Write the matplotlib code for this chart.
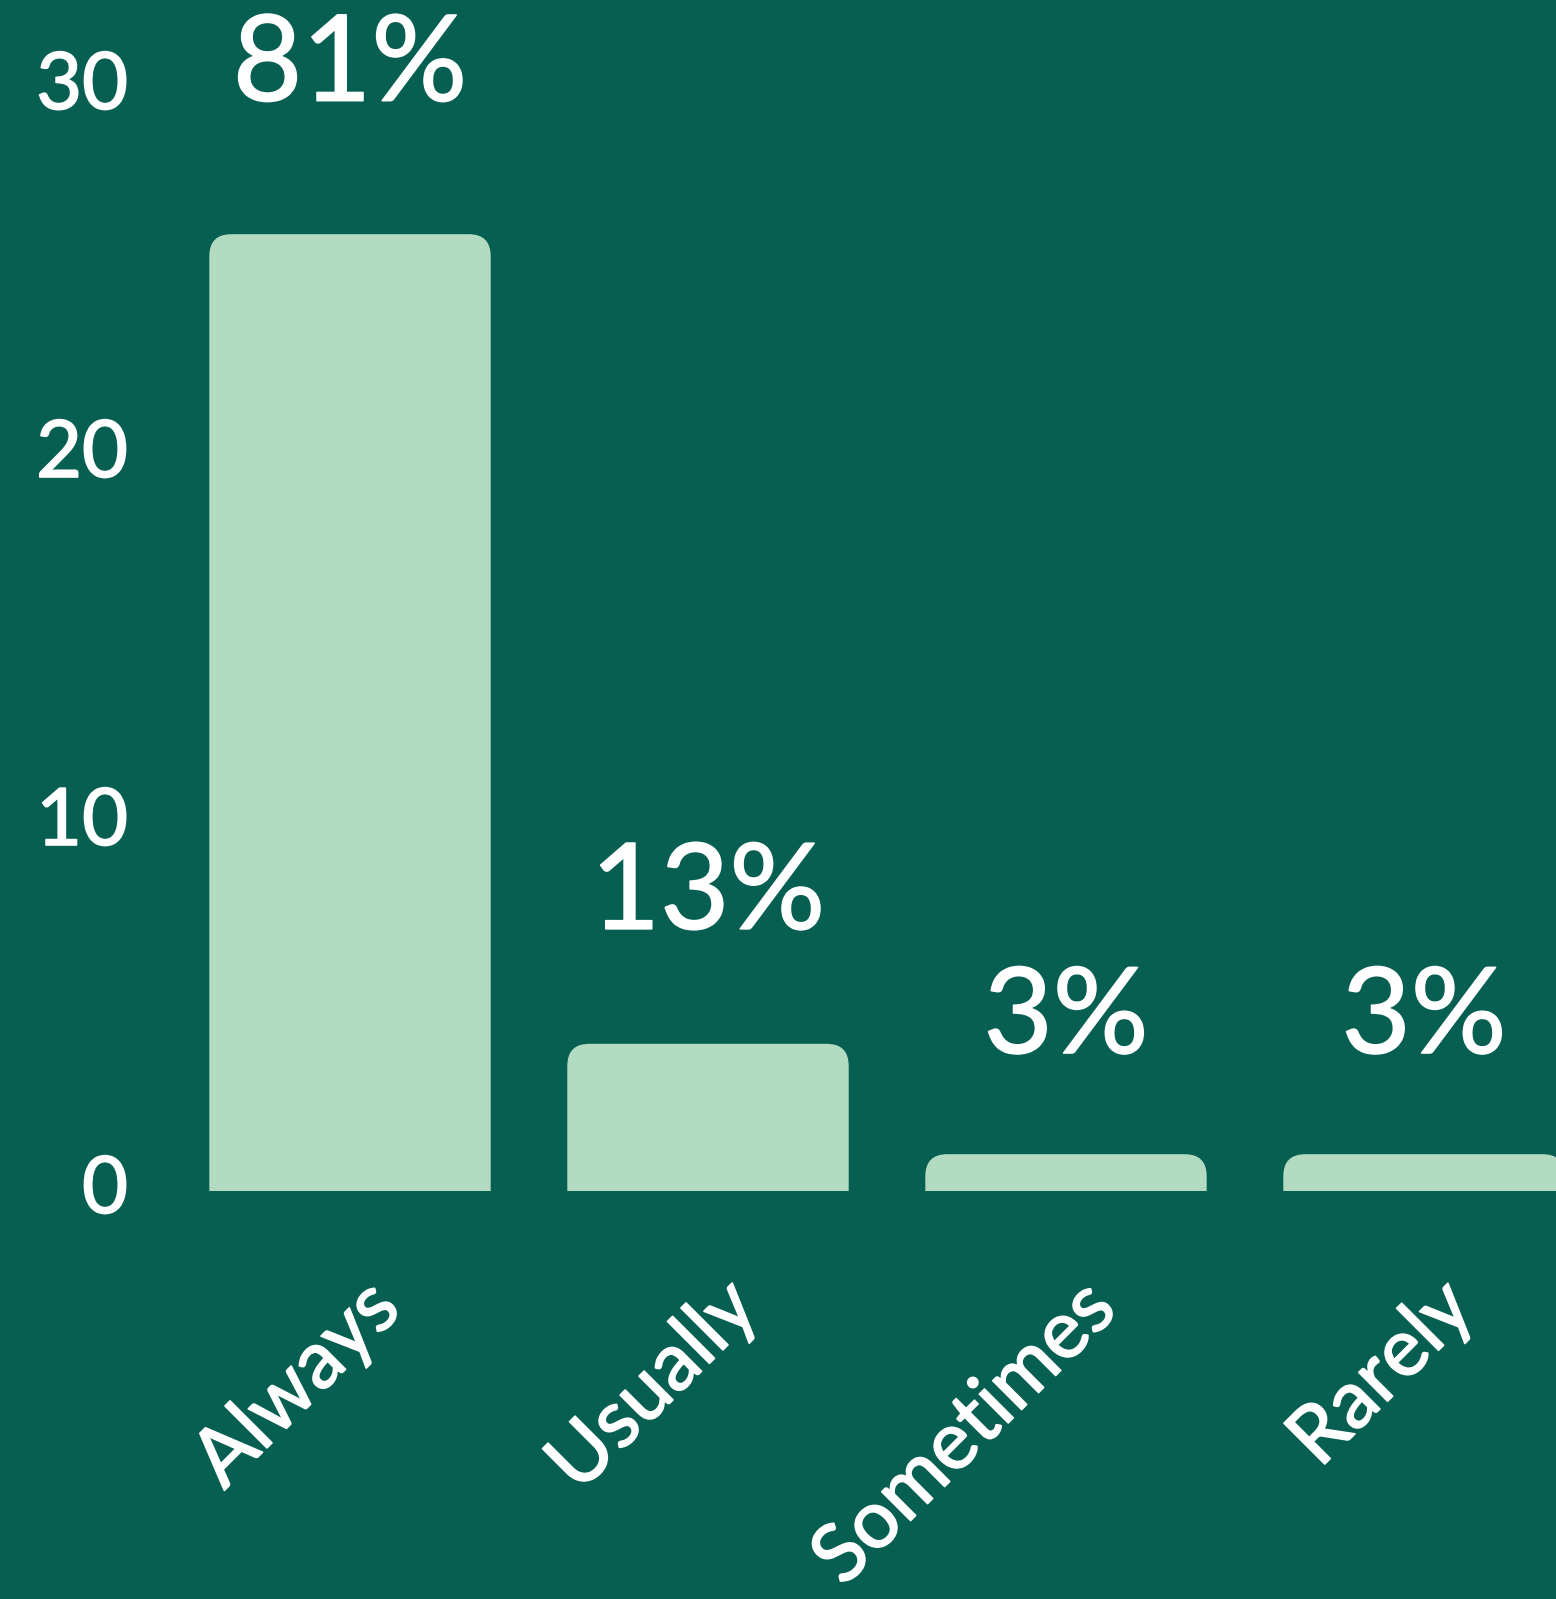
import matplotlib
matplotlib.use("Agg")
import numpy as np
import matplotlib.pyplot as plt
from matplotlib.path import Path
from matplotlib.patches import PathPatch
from matplotlib.transforms import ScaledTranslation
import matplotlib.patheffects as pe

# Survey responses (counts) and their share labels
categories = ["Always", "Usually", "Sometimes", "Rarely"]
counts = [26, 4, 1, 1]
share_labels = ["81%", "13%", "3%", "3%"]
y_ticks = [0, 10, 20, 30]

BG = "#075F51"
BAR = "#B2DBC1"
FG = "white"
FONT = "Lato"

W, H, DPI = 1556, 1599, 100
fig = plt.figure(figsize=(W / DPI, H / DPI), dpi=DPI, facecolor=BG)
ax = fig.add_axes([171 / W, 1 - 1191 / H, 1432 / W, 1104 / H], facecolor=BG)

bar_width = 0.786
ax.set_xlim(-0.5, len(categories) - 0.5)
ax.set_ylim(0, 30)

# Draw bars, then swap each rectangle for one with rounded top corners
bars = ax.bar(range(len(categories)), counts, width=bar_width, color=BAR)
fig.canvas.draw()
to_data = ax.transData.inverted()
r_px = 22
p0 = to_data.transform((0, 0))
p1 = to_data.transform((r_px, r_px))
rx, ry = p1[0] - p0[0], p1[1] - p0[1]
for rect in bars:
    x0, y0 = rect.get_x(), rect.get_y()
    w, h = rect.get_width(), rect.get_height()
    x1, y1 = x0 + w, y0 + h
    ryy = min(ry, h)
    verts = [
        (x0, y0), (x0, y1 - ryy), (x0, y1), (x0 + rx, y1),
        (x1 - rx, y1), (x1, y1), (x1, y1 - ryy), (x1, y0), (x0, y0),
    ]
    codes = [Path.MOVETO, Path.LINETO, Path.CURVE3, Path.CURVE3,
             Path.LINETO, Path.CURVE3, Path.CURVE3, Path.LINETO, Path.CLOSEPOLY]
    ax.add_patch(PathPatch(Path(verts, codes), facecolor=BAR, edgecolor="none"))
    rect.set_visible(False)

# Thin round-capped outline softens the glyph ends
stroke = [pe.withStroke(linewidth=1.2, foreground=FG, capstyle="round", joinstyle="round")]

# Share labels above each bar
for i, (v, lab) in enumerate(zip(counts, share_labels)):
    ax.text(i, v + 2.75 + 0.27 * np.log(v), lab, ha="center", va="baseline",
            fontsize=86, color=FG, family=FONT, path_effects=stroke)

for s in ax.spines.values():
    s.set_visible(False)

ax.set_yticks(y_ticks)
ax.set_yticklabels([str(t) for t in y_ticks], fontsize=57, color=FG, family=FONT)
ax.tick_params(axis="y", length=0, pad=31)
ax.set_xticks(range(len(categories)))
ax.set_xticklabels(categories, fontsize=58, color=FG, family=FONT,
                   rotation=45, ha="right", va="center", rotation_mode="anchor")
ax.tick_params(axis="x", length=0, pad=30)
shift = ScaledTranslation(37 / DPI, -63 / DPI, fig.dpi_scale_trans)
for lbl in ax.get_xticklabels():
    lbl.set_transform(lbl.get_transform() + shift)
    lbl.set_path_effects(stroke)
yshift = ScaledTranslation(0, 7 / DPI, fig.dpi_scale_trans)
for lbl in ax.get_yticklabels():
    lbl.set_transform(lbl.get_transform() + yshift)
    lbl.set_path_effects(stroke)

fig.savefig("out.png", dpi=DPI, facecolor=BG)
